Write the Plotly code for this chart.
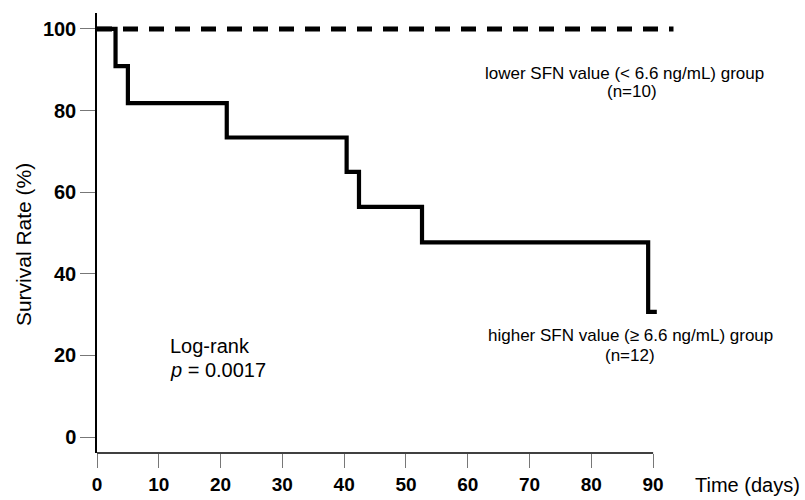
import plotly.graph_objects as go

# Data
high_days = [0, 3, 3, 5, 5, 21, 21, 40.4, 40.4, 42.4, 42.4, 52.6, 52.6, 89.2, 89.2, 90.6]
high_surv = [100, 100, 90.9, 90.9, 81.8, 81.8, 73.4, 73.4, 65.0, 65.0, 56.4, 56.4, 47.7, 47.7, 30.7, 30.7]
low_days = [0, 93.3]
low_surv = [100, 100]
x_ticks = [0, 10, 20, 30, 40, 50, 60, 70, 80, 90]
y_ticks = [0, 20, 40, 60, 80, 100]

FONT = "Liberation Sans, Arial, sans-serif"

fig = go.Figure()
fig.add_trace(go.Scatter(x=low_days, y=low_surv, mode="lines",
                         line=dict(color="black", width=5, dash="15px,11px"),
                         hoverinfo="skip", showlegend=False))
fig.add_trace(go.Scatter(x=high_days, y=high_surv, mode="lines",
                         line=dict(color="black", width=4.2),
                         hoverinfo="skip", showlegend=False))

fig.update_layout(
    width=805, height=500,
    margin=dict(l=97, r=121, t=13, b=47, pad=0, autoexpand=False),
    paper_bgcolor="white", plot_bgcolor="white",
    font=dict(family=FONT, color="black"),
    xaxis=dict(range=[0, 95], tickvals=x_ticks, ticktext=[str(v) for v in x_ticks],
               automargin=False,
               showgrid=False, zeroline=False, showline=False,
               ticks="outside", ticklen=14, tickcolor="#777", tickwidth=1,
               tickfont=dict(size=19, family=FONT, color="black", weight="bold")),
    yaxis=dict(range=[-3.9, 103.9], tickvals=y_ticks, ticktext=[str(v) for v in y_ticks],
               automargin=False,
               showgrid=False, zeroline=False, showline=True, linecolor="black", linewidth=1.5,
               ticks="outside", ticklen=15, tickcolor="#777", tickwidth=1,
               tickfont=dict(size=20, family=FONT, color="black", weight="bold")),
)

# x axis line drawn only from 0 to 90
fig.add_shape(type="line", xref="x", yref="paper", x0=0, x1=90, y0=0, y1=0,
              line=dict(color="black", width=1.5))

ann = [
    dict(text="Survival Rate (%)", xref="paper", yref="paper", x=-0.124, y=0.473,
         textangle=-90, font=dict(size=21), xanchor="center", yanchor="middle"),
    dict(text="Time (days)", xref="paper", yref="paper", x=1.015, y=-0.073,
         font=dict(size=20), xanchor="left", yanchor="middle"),
    dict(text="lower SFN value (< 6.6 ng/mL) group", xref="x", yref="y", x=85.4, y=89.2,
         font=dict(size=17), xanchor="center", yanchor="middle"),
    dict(text="(n=10)", xref="x", yref="y", x=86.6, y=84.6,
         font=dict(size=17), xanchor="center", yanchor="middle"),
    dict(text="higher SFN value (≥ 6.6 ng/mL) group", xref="x", yref="y", x=86.4, y=25.0,
         font=dict(size=17), xanchor="center", yanchor="middle"),
    dict(text="(n=12)", xref="x", yref="y", x=86.2, y=20.1,
         font=dict(size=17), xanchor="center", yanchor="middle"),
    dict(text="Log-rank", xref="x", yref="y", x=(168 - 97) / 6.18, y=(437 - 346) / 4.08,
         font=dict(size=20), xanchor="left", yanchor="middle"),
    dict(text="<i>p</i> = 0.0017", xref="x", yref="y", x=(168 - 97) / 6.18, y=(437 - 370) / 4.08,
         font=dict(size=20), xanchor="left", yanchor="middle"),
]
for a in ann:
    a["showarrow"] = False
    fig.add_annotation(**a)

fig.write_html("out.html")
